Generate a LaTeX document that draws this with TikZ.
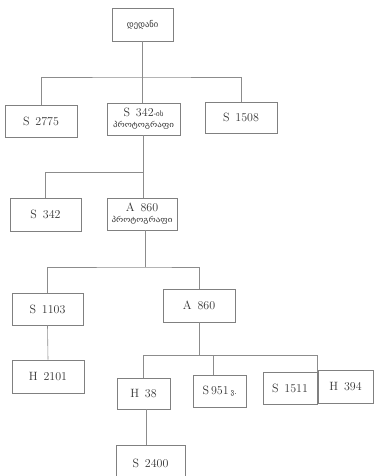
\documentclass[tikz,border=0pt]{standalone}
\usepackage{fontspec}
\newfontfamily\geo{DejaVu Sans}
\newcommand{\protog}{\scalebox{1.2}[1]{\geo\fontsize{7.5}{8}\selectfont პროტოგრაფი}}
\begin{document}
\begin{tikzpicture}[x=1pt,y=-1pt,
  box/.style={draw=black!50, line width=0.6pt, inner sep=0pt, align=center,
    text=black!80, font=\fontsize{12}{12}\selectfont, anchor=center},
  conn/.style={draw=black!45, line width=0.6pt}]
\useasboundingbox (0,0) rectangle (374,476);
\clip (0,0) rectangle (374,476);
\node[box, minimum width=61, minimum height=33] (top) at (142.5,24.5) {{\geo\fontsize{8.5}{9}\selectfont დედანი}};
\node[box, minimum width=72, minimum height=32] (s2775) at (41,121) {S\, 2775};
\node[box, minimum width=73, minimum height=32] (s342p) at (143.5,119) {S\, 342{\geo\fontsize{7}{7}\selectfont -ის}\\[-1pt]\protog};
\node[box, minimum width=72, minimum height=31] (s1508) at (241,117.5) {S\, 1508};
\node[box, minimum width=71, minimum height=33] (s342) at (45.5,214.5) {S\, 342};
\node[box, minimum width=70, minimum height=32] (a860p) at (142,214) {A\, 860\\[-1pt]\protog};
\node[box, minimum width=71, minimum height=32] (s1103) at (47.5,309) {S\, 1103};
\node[box, minimum width=72, minimum height=33] (a860) at (199,305.5) {A\, 860};
\node[box, minimum width=72, minimum height=33] (h2101) at (48,376.5) {H\, 2101};
\node[box, minimum width=53, minimum height=31] (h38) at (143.5,393.5) {H\, 38};
\node[box, minimum width=53, minimum height=32] (s951) at (219.5,391) {S\,951\,{\geo\fontsize{7}{7}\selectfont ვ.}};
\node[box, minimum width=54, minimum height=32] (s1511) at (290,388) {S\, 1511};
\node[box, minimum width=55, minimum height=33] (h394) at (345.5,386.5) {H\, 394};
\node[box, minimum width=69, minimum height=36] (s2400) at (150.5,463) {S\, 2400};
% level 1
\coordinate (b1) at (142,77);
\draw[conn] (top.south) -- (top.south |- s342p.north);
\draw[conn] (s2775.north) |- (b1) -| (s1508.north);
% level 2
\coordinate (b2) at (143.5,172);
\draw[conn] (s342p.south) -- (s342p.south |- a860p.north);
\draw[conn] (s342.north) |- (b2);
% level 3
\coordinate (b3) at (145,267);
\draw[conn] ([xshift=3]a860p.south) -- ([xshift=3]a860p.south |- b3);
\draw[conn] (s1103.north) |- (b3) -| (a860.north);
\draw[conn] (s1103.south) -- (h2101.north);
% level 4
\coordinate (b4) at (200,355);
\draw[conn] (a860.south) -- (a860.south |- b4);
\draw[conn] (h38.north) |- (s1511.north east |- b4) -- (s1511.north east);
\draw[conn] ([xshift=-6]s951.north) -- ([xshift=-6]s951.north |- b4);
\draw[conn] ([xshift=3]h38.south) -- ([xshift=3]h38.south |- s2400.north);
\end{tikzpicture}
\end{document}
